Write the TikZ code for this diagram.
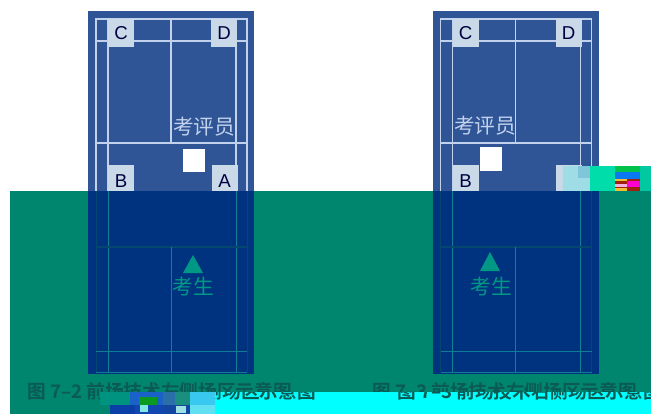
\documentclass[tikz,border=0pt]{standalone}
\usepackage{fontspec}
\setmainfont{Liberation Sans}
\newfontfamily\cjk{Noto Sans CJK SC}
\newfontfamily\cjkbold{Noto Sans CJK SC Bold}
\definecolor{courtblue}{HTML}{2F5597}
\definecolor{courtline}{HTML}{C3D2EC}
\definecolor{boxblue}{HTML}{C9D9E8}
\definecolor{bandteal}{HTML}{00866F}
\definecolor{deepblue}{HTML}{00337F}
\definecolor{lowline}{HTML}{0F7D93}
\definecolor{lowdark}{HTML}{05486F}
\definecolor{capteal}{HTML}{0B5A54}
\definecolor{purecyan}{HTML}{00FFFF}
\newcommand{\patch}[5]{\definecolor{patchcol}{HTML}{#1}\fill[patchcol] (#2,#3) rectangle (#4,#5);}
\tikzset{
  cornerbox/.style={fill=boxblue, draw=none, minimum width=19.5pt, minimum height=20.5pt,
    inner sep=0pt, text=black!75!blue, font=\fontsize{14}{14}\selectfont},
  courtlabel/.style={text=courtline, font=\cjk\fontsize{15.5}{16}\selectfont, inner sep=0pt},
  lowlabel/.style={text=bandteal!85!cyan, font=\cjk\fontsize{15.5}{16}\selectfont, inner sep=0pt},
  captext/.style={text=capteal, font=\cjkbold\fontsize{14}{14}\selectfont, inner sep=0pt, anchor=west},
  upline/.style={draw=courtline, line width=1pt},
  lowthin/.style={draw=lowline, line width=0.6pt}
}
\begin{document}
\begin{tikzpicture}[x=0.75pt,y=-0.75pt]
  \useasboundingbox (0,0) rectangle (651,414);
  \fill[white] (0,0) rectangle (651,414);

  % upper half of both courts
  \foreach \ox in {0,344.5}{
    \begin{scope}[xshift=\ox*0.75pt]
      \fill[courtblue] (88,11) rectangle (254,192);
      \draw[upline] (96,19) rectangle (247,192);
      \draw[upline] (108,19) -- (108,192);
      \draw[upline] (236,19) -- (236,192);
      \draw[upline] (96,41) -- (247,41);
      \draw[upline] (96,143) -- (247,143);
      \draw[upline] (171,19) -- (171,143);
      \node[cornerbox] (c\ox) at (121,33) {C};
      \node[cornerbox] (d\ox) at (224,33) {D};
      \node[cornerbox,minimum height=24pt] (b\ox) at (121,181) {B};
    \end{scope}
  }
  \node[cornerbox,minimum height=24pt] (aleft) at (224.5,181) {A};
  \node[cornerbox,minimum height=24pt] (aright) at (569,181) {A};
  \node[courtlabel] (judgeleft) at (204,127) {考评员};
  \node[courtlabel] (judgeright) at (485,126) {考评员};
  \fill[white] (183,149) rectangle (205,172);
  \fill[white] (480,147) rectangle (502,171);

  % broken strip right of the second court
  \patch{9FDDE6}{563}{166}{590}{191}
  \patch{7FC6D8}{578}{166}{590}{178}
  \patch{00DDAA}{590}{166}{615}{191}
  \patch{00C24A}{615}{166}{640}{172}
  \patch{0A78F0}{615}{172}{640}{179}
  \patch{A02010}{615}{179}{640}{191}
  \patch{FF00D0}{627}{181}{640}{187}
  \patch{F0C030}{615}{179}{627}{181}
  \patch{F4B0E0}{615}{184}{627}{187}
  \patch{F0C030}{615}{188}{627}{191}
  \patch{00C8A0}{640}{166}{651}{191}

  % teal band
  \fill[bandteal] (10,191) rectangle (651,414);

  % lower half of both courts
  \foreach \ox in {0,344.5}{
    \begin{scope}[xshift=\ox*0.75pt]
      \fill[deepblue] (88,191) rectangle (254,374);
      \draw[lowdark, line width=0.6pt] (96,191) -- (96,372);
      \draw[lowdark, line width=0.6pt] (247,191) -- (247,372);
      \draw[lowthin] (108,191) -- (108,372);
      \draw[lowthin] (236,191) -- (236,372);
      \draw[lowdark, line width=1.2pt] (96,247) -- (247,247);
      \draw[lowthin] (171,247) -- (171,372);
      \draw[lowthin] (96,351) -- (247,351);
      \draw[lowthin] (96,372) -- (247,372);
    \end{scope}
  }
  \fill[bandteal!85!cyan] (193,255) -- (203,273) -- (183,273) -- cycle;
  \fill[bandteal!85!cyan] (490,252) -- (500,271) -- (480,271) -- cycle;
  \node[lowlabel] (pupilleft) at (193,287) {考生};
  \node[lowlabel] (pupilright) at (491,287) {考生};

  % captions, upper copy
  \node[captext] (capleft) at (27,391) {图 7–2 前场技术左侧场区示意图};
  \node[captext] (capright) at (372,391) {图 7–3 前场技术右侧场区示意图};

  % bottom strips
  \fill[purecyan] (215,392) rectangle (651,414);
  \patch{00937F}{100}{392}{130}{405}
  \patch{0A3FA8}{110}{405}{135}{414}
  \patch{1A62C8}{130}{392}{163}{405}
  \patch{0A9A20}{139}{397}{157}{405}
  \patch{1246B0}{135}{405}{163}{414}
  \patch{7FE8E0}{140}{405}{148}{412}
  \patch{2A6FA8}{163}{392}{175}{405}
  \patch{1A8F80}{175}{392}{190}{405}
  \patch{1246A0}{163}{405}{190}{414}
  \patch{9FE0E0}{176}{406}{186}{413}
  \patch{38C8F0}{190}{392}{215}{405}
  \patch{60E0F0}{190}{405}{215}{414}

  % captions, lower copy pushed to the right
  \begin{scope}
    \clip (215,392) rectangle (651,414);
    \node[captext] (capleftlow) at (51,391) {图 7–2 前场技术左侧场区示意图};
    \node[captext] (caprightlow) at (397,391) {图 7–3 前场技术右侧场区示意图};
  \end{scope}
\end{tikzpicture}
\end{document}
